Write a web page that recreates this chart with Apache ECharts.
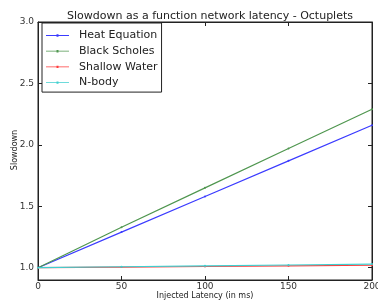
<!DOCTYPE html>
<html><head><meta charset="utf-8">
<script src="https://cdn.jsdelivr.net/npm/echarts@6/dist/echarts.min.js"></script>
<style>html,body{margin:0;padding:0;background:#fff}#c{width:378px;height:302px}</style>
</head><body><div id="c"></div>
<script>
const latency = [0, 50, 100, 150, 200];
const heatEquation = [1.0, 1.29, 1.58, 1.87, 2.16];
const blackScholes = [1.0, 1.33, 1.65, 1.97, 2.29];
const shallowWater = [1.0, 1.005, 1.01, 1.015, 1.02];
const nBody = [1.0, 1.008, 1.015, 1.022, 1.03];
const yTicks = [1.0, 1.5, 2.0, 2.5, 3.0];
const xTicks = [0, 50, 100, 150, 200];
const xTitle = 'Injected Latency (in ms)';
const yTitle = 'Slowdown';

const names = ['Heat Equation', 'Black Scholes', 'Shallow Water', 'N-body'];
const colors = ['#3b3bff', '#4f964f', '#ff3b3b', '#3fd0d0'];
const datas = [heatEquation, blackScholes, shallowWater, nBody];
const font = 'DejaVu Sans';

const chart = echarts.init(document.getElementById('c'), null, {renderer: 'canvas'});
function xAx(pos, extra) {
  return Object.assign({
    type: 'value', min: 0, max: 200, position: pos,
    axisLine: {show: true, onZero: false, lineStyle: {color: '#222', width: 1}},
    axisTick: {show: true, inside: true, length: 4, customValues: xTicks, lineStyle: {color: '#222'}},
    splitLine: {show: false},
    axisLabel: {show: false}
  }, extra);
}
function yAx(pos, extra) {
  return Object.assign({
    type: 'value', min: 0.9, max: 3.0, position: pos,
    axisLine: {show: true, onZero: false, lineStyle: {color: '#222', width: 1}},
    axisTick: {show: true, inside: true, length: 4, customValues: yTicks, lineStyle: {color: '#222'}},
    splitLine: {show: false},
    axisLabel: {show: false}
  }, extra);
}
chart.setOption({
  animation: false,
  title: {text: 'Slowdown as a function network latency - Octuplets', left: 205, textAlign: 'center', top: 6,
    textStyle: {fontFamily: font, fontSize: 11, fontWeight: 'normal', color: '#222'}},
  legend: {
    orient: 'vertical', left: 42, top: 23, itemWidth: 23, itemHeight: 6, itemGap: 4.7,
    padding: [7, 4, 4, 4], borderColor: '#222', borderWidth: 1, backgroundColor: '#fff',
    textStyle: {fontFamily: font, fontSize: 11, color: '#222', padding: [0, 0, 0, 5]},
    data: names.map(n => ({name: n, icon: 'path://M0,2.6L23,2.6L23,3.4L0,3.4ZM10.5,1.8L12.5,1.8L12.5,4.2L10.5,4.2Z'}))
  },
  grid: {left: 38, right: 6, top: 22, bottom: 22, containLabel: false, outerBoundsMode: 'none',
    show: true, borderColor: '#222', borderWidth: 1, backgroundColor: 'transparent'},
  graphic: [
    {type: 'text', style: {text: xTitle, x: 205, y: 296, align: 'center', verticalAlign: 'middle',
      fontFamily: font, fontSize: 8, fill: '#222'}},
    {type: 'text', x: 15, y: 150, rotation: Math.PI / 2, style: {text: yTitle, x: 0, y: 0, align: 'center', verticalAlign: 'middle',
      fontFamily: font, fontSize: 8, fill: '#222'}}
  ],
  xAxis: [
    xAx('bottom', {axisLabel: {show: true, customValues: xTicks, fontFamily: font, fontSize: 9, color: '#333', margin: 2}}),
    xAx('top', {})
  ],
  yAxis: [
    yAx('left', {axisLabel: {show: true, customValues: yTicks, formatter: v => v.toFixed(1), fontFamily: font, fontSize: 9, color: '#333', margin: 4}}),
    yAx('right', {})
  ],
  series: names.map((n, i) => ({
    name: n, type: 'line', xAxisIndex: 0, yAxisIndex: 0,
    data: latency.map((x, j) => [x, datas[i][j]]),
    symbol: 'circle', symbolSize: 2, showSymbol: true,
    lineStyle: {color: colors[i], width: 1.2},
    itemStyle: {color: colors[i]},
    z: 2 + i
  })),
  color: colors
});
</script></body></html>
